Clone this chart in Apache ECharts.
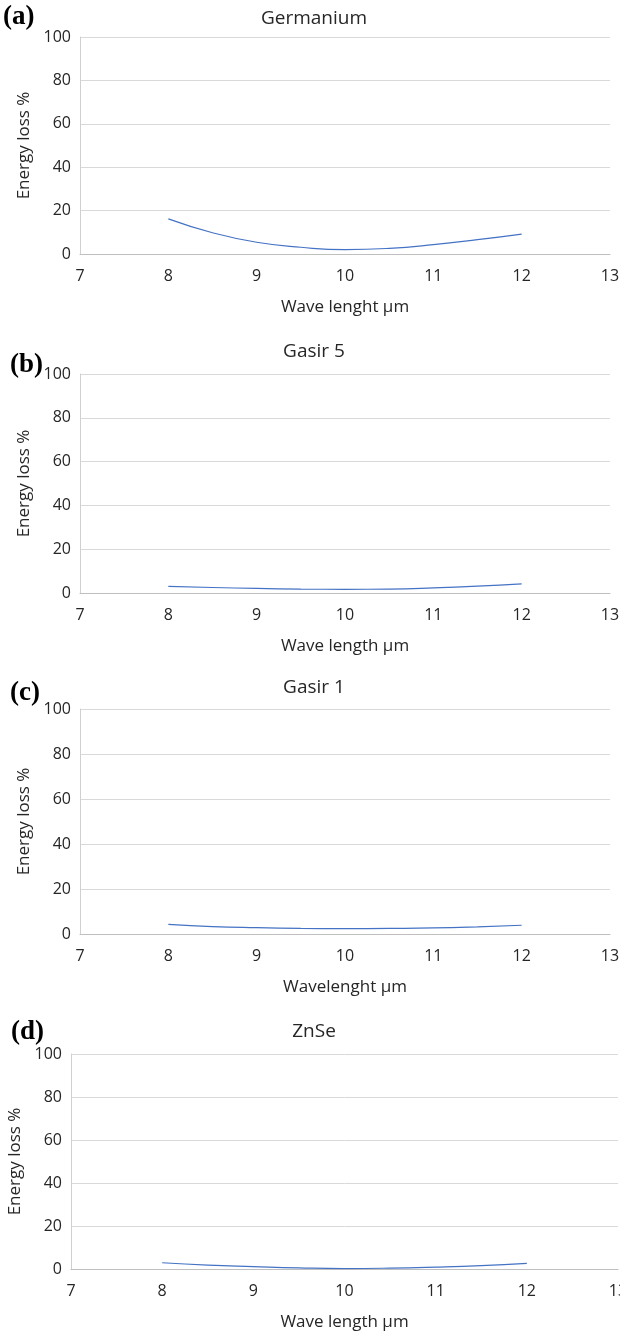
<!DOCTYPE html>
<html>
<head>
<meta charset="utf-8">
<script src="https://cdn.jsdelivr.net/npm/echarts@6/dist/echarts.min.js"></script>
<style>
  html, body { margin: 0; padding: 0; background: #fff; }
  #chart { width: 620px; height: 1333px; }
</style>
</head>
<body>
<div id="chart"></div>
<script>
// wavelength (µm) where the curves were read
var waveLength = [8, 8.5, 9, 9.5, 10, 10.5, 11, 11.5, 12]

// energy loss %
var germanium = [16.2, 9.8, 5.4, 3.1, 2.0, 2.6, 4.3, 6.6, 9.2]
var gasir5 = [3.0, 2.5, 2.1, 1.8, 1.7, 1.8, 2.3, 3.1, 4.2]
var gasir1 = [4.3, 3.3, 2.8, 2.5, 2.4, 2.5, 2.7, 3.2, 3.9]
var znse = [2.9, 1.8, 1.1, 0.5, 0.2, 0.4, 0.9, 1.6, 2.6]

var yTicks = [0, 20, 40, 60, 80, 100]
var xTicks = [7, 8, 9, 10, 11, 12, 13]

// one entry per panel
var panels = [
  { tag: '(a)', title: 'Germanium', xName: 'Wave lenght μm', data: germanium },
  { tag: '(b)', title: 'Gasir 5', xName: 'Wave length µm', data: gasir5 },
  { tag: '(c)', title: 'Gasir 1', xName: 'Wavelenght µm', data: gasir1 },
  { tag: '(d)', title: 'ZnSe', xName: 'Wave length µm', data: znse }
]

var boxes = [
  { left: 80, right: 10, top: 37, height: 217, tagX: 3, tagY: 17, titleY: 19 },
  { left: 80, right: 10, top: 374, height: 219, tagX: 10, tagY: 365, titleY: 352 },
  { left: 80, right: 10, top: 709, height: 225, tagX: 10, tagY: 693, titleY: 688 },
  { left: 71, right: 2, top: 1054, height: 215, tagX: 11, tagY: 1032, titleY: 1032 }
]

var textColor = '#262626'
var font = '"Open Sans", sans-serif'

var chart = echarts.init(document.getElementById('chart'), null, { renderer: 'canvas' })

var grid = [], xAxis = [], yAxis = [], series = [], graphic = []

panels.forEach(function (p, i) {
  var b = boxes[i]
  grid.push({
    left: b.left,
    right: b.right,
    top: b.top,
    height: b.height,
    containLabel: false,
    outerBoundsMode: 'none'
  })
  xAxis.push({
    type: 'value',
    gridIndex: i,
    min: xTicks[0],
    max: xTicks[xTicks.length - 1],
    interval: 1,
    name: p.xName,
    nameLocation: 'middle',
    nameGap: 45,
    nameTextStyle: { color: textColor, fontSize: 17, fontFamily: font },
    axisLine: { show: true, lineStyle: { color: '#bfbfbf', width: 1 } },
    axisTick: { show: false },
    axisLabel: { color: textColor, fontSize: 16, fontFamily: font, margin: 14, showMaxLabel: true },
    splitLine: { show: false }
  })
  yAxis.push({
    type: 'value',
    gridIndex: i,
    min: yTicks[0],
    max: yTicks[yTicks.length - 1],
    interval: 20,
    name: 'Energy loss %',
    nameLocation: 'middle',
    nameGap: 45,
    nameRotate: 90,
    nameTextStyle: { color: textColor, fontSize: 17, fontFamily: font },
    axisLine: { show: true, lineStyle: { color: '#d0d0d0', width: 1 } },
    axisTick: { show: false },
    axisLabel: { color: textColor, fontSize: 16, fontFamily: font, margin: 9 },
    splitLine: { show: true, lineStyle: { color: '#d9d9d9', width: 1 } }
  })
  series.push({
    type: 'line',
    xAxisIndex: i,
    yAxisIndex: i,
    smooth: true,
    showSymbol: false,
    lineStyle: { color: '#4472c4', width: 1.2 },
    data: waveLength.map(function (x, k) { return [x, p.data[k]] })
  })
  graphic.push({
    type: 'text',
    x: b.tagX,
    y: b.tagY,
    style: {
      text: p.tag,
      font: 'bold 27px "Liberation Serif", "Times New Roman", serif',
      fill: '#000',
      textVerticalAlign: 'middle'
    }
  })
  graphic.push({
    type: 'text',
    x: 314,
    y: b.titleY,
    style: {
      text: p.title,
      font: '19px ' + font,
      fill: textColor,
      textAlign: 'center',
      textVerticalAlign: 'middle'
    }
  })
})

chart.setOption({
  animation: false,
  backgroundColor: '#fff',
  grid: grid,
  xAxis: xAxis,
  yAxis: yAxis,
  series: series,
  graphic: graphic
})
</script>
</body>
</html>
